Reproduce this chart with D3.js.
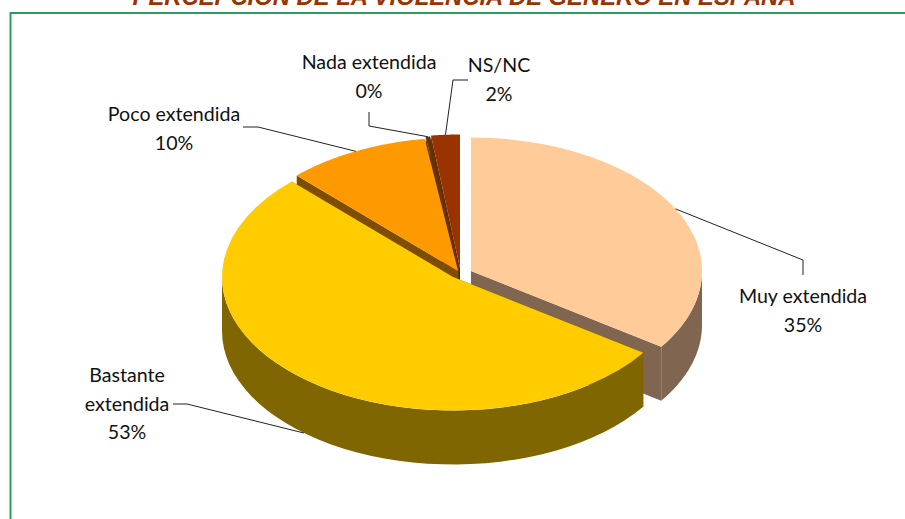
<!DOCTYPE html>
<html><head><meta charset="utf-8">
<style>html,body{margin:0;padding:0;background:#fff;overflow:hidden}svg{display:block}</style>
<script src="https://cdn.jsdelivr.net/npm/d3@7/dist/d3.min.js"></script></head>
<body><svg id="c" width="905" height="519"></svg>
<script>
const categories = ["Muy extendida","Bastante extendida","Poco extendida","Nada extendida","NS/NC"];
const values = [34.6,53.1,10,0.3,2];
const titleText = "PERCEPCIÓN DE LA VIOLENCIA DE GÉNERO EN ESPAÑA";

const topColors = ["#FFCC99","#FFCC00","#FF9900","#663300","#993300"];
const wallColors = ["#806650","#806600","#7F4D00","#663300","#6B2400"];
const centers = [[471,271],[453,277],[458,271],[459,269],[460,268]];
const labelLines = [["Muy extendida"],["Bastante","extendida"],["Poco extendida"],["Nada extendida"],["NS/NC"]];
const labelPos = [[803,303],[127,382],[174,121],[369,69],[499,72]];
const elbows = [[[803,260],[803,275]],[[187,404],[173,404]],[[258,127],[243,127]],[[369,126],[369,112]],[[453,80],[468,80]]];
const drawOrder = [4,3,2,0,1];
const rx = 231, ry = 133.5, depth = 54, lineH = 28.5;

const svg = d3.select("#c");
const pieGen = d3.pie().sort(null).value(d => d);
const arcs = pieGen(values);

const rim = (i,t) => [centers[i][0]+rx*Math.sin(t), centers[i][1]-ry*Math.cos(t)];
const samples = (a,b) => d3.range(0,41).map(k => a+(b-a)*k/40);
const line = d3.line();

svg.append("text").text(titleText)
  .attr("x",464).attr("y",5).attr("text-anchor","middle")
  .attr("font-family","'Liberation Sans',Arial,sans-serif")
  .attr("font-weight","bold").attr("font-style","italic")
  .attr("font-size",23.8).attr("fill","#993300");

svg.append("path").attr("d","M10.5,519V13H905").attr("fill","none")
  .attr("stroke","#2E9B64").attr("stroke-width",2);

const g = svg.append("g");
drawOrder.forEach(i => {
  const a = arcs[i];
  const c = centers[i], pts = samples(a.startAngle,a.endAngle).map(t => rim(i,t));
  const down = p => [p[0],p[1]+depth];
  [pts[0],pts[pts.length-1]].forEach(p => {
    g.append("path").attr("d",line([c,p,down(p),down(c)])+"Z").attr("fill",wallColors[i]);
  });
  const lo = Math.max(a.startAngle,Math.PI/2), hi = Math.min(a.endAngle,Math.PI*1.5);
  if (hi > lo) {
    const f = samples(lo,hi).map(t => rim(i,t));
    g.append("path").attr("d",line(f.concat(f.map(down).reverse()))+"Z").attr("fill",wallColors[i]);
  }
  g.append("path").attr("d",line([c].concat(pts))+"Z").attr("fill",topColors[i]);
});

arcs.forEach((a,i) => {
  const mid = (a.startAngle+a.endAngle)/2;
  let p = rim(i, mid);
  if (Math.cos(mid) < -0.5) p = [p[0],p[1]+depth];
  svg.append("path").attr("d",line([p].concat(elbows[i])))
    .attr("fill","none").attr("stroke","#222").attr("stroke-width",1);
});

labelLines.forEach((ls,i) => {
  ls.concat(Math.round(values[i])+"%").forEach((s,j) => {
    svg.append("text").text(s)
      .attr("x",labelPos[i][0]).attr("y",labelPos[i][1]+j*lineH)
      .attr("text-anchor","middle")
      .attr("font-family","Lato,'Open Sans',sans-serif")
      .attr("font-size",19.6).attr("fill","#111");
  });
});
</script></body></html>
